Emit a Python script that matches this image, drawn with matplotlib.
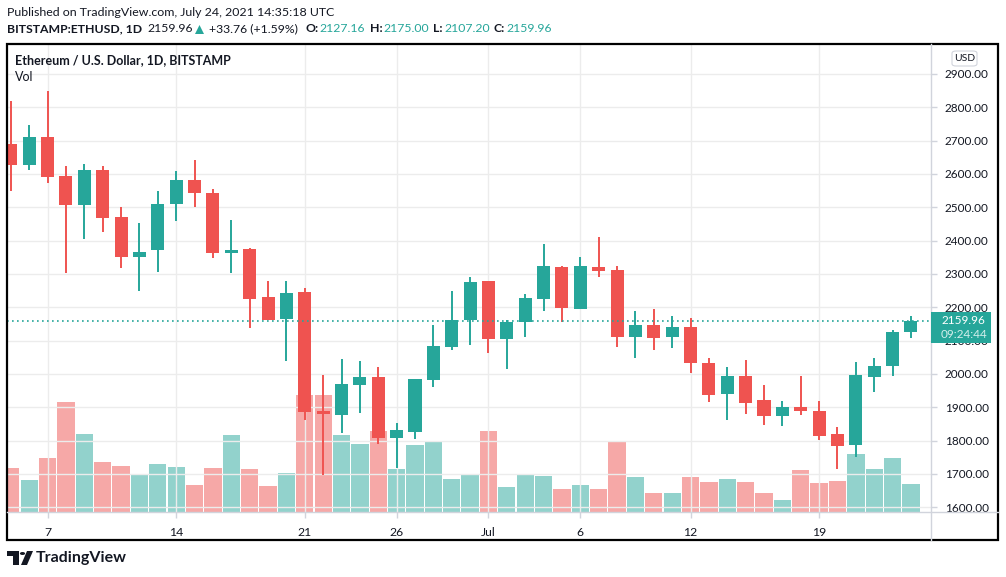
import matplotlib
matplotlib.use('Agg')
import matplotlib.pyplot as plt
from matplotlib.patches import Rectangle, Polygon, FancyBboxPatch, Circle
from matplotlib.lines import Line2D

plt.rcParams['font.family'] = ['Lato', 'DejaVu Sans']

# daily candles, 5 Jun 2021 .. 24 Jul 2021
opens = [2690, 2628, 2711, 2594, 2507, 2612, 2471, 2351, 2372, 2510,
         2582, 2543, 2363, 2375, 2231, 2166, 2246, 1889, 1877, 1967,
         1991, 1808, 1826, 1982, 2081, 2162, 2279, 2105, 2156, 2225,
         2321, 2195, 2321, 2312, 2112, 2148, 2112, 2142, 2033, 1941,
         1995, 1923, 1875, 1901, 1890, 1821, 1788, 1992, 2025, 2127.16]
highs = [2819, 2747, 2849, 2624, 2630, 2624, 2501, 2453, 2549, 2609,
         2642, 2555, 2462, 2378, 2279, 2279, 2258, 1998, 2045, 2039,
         2021, 1853, 1985, 2147, 2249, 2291, 2279, 2162, 2240, 2390,
         2324, 2351, 2411, 2324, 2190, 2196, 2174, 2168, 2049, 2022,
         2043, 1968, 1920, 1995, 1920, 1842, 2037, 2049, 2133, 2175.00]
lows = [2549, 2612, 2573, 2303, 2405, 2426, 2318, 2250, 2306, 2459,
        2501, 2348, 2303, 2138, 2163, 2040, 1862, 1697, 1823, 1883,
        1790, 1718, 1805, 1961, 2072, 2087, 2063, 2015, 2111, 2189,
        2156, 2195, 2291, 2081, 2049, 2073, 2079, 2004, 1917, 1863,
        1881, 1848, 1845, 1878, 1803, 1716, 1752, 1947, 1995, 2107.20]
closes = [2628, 2711, 2591, 2507, 2612, 2469, 2351, 2366, 2510, 2582,
          2543, 2363, 2372, 2226, 2163, 2243, 1886, 1880, 1970, 1991,
          1808, 1832, 1985, 2084, 2162, 2276, 2105, 2156, 2228, 2324,
          2198, 2324, 2309, 2112, 2148, 2109, 2142, 2034, 1938, 1995,
          1914, 1875, 1901, 1890, 1815, 1785, 1998, 2025, 2127, 2159.96]
# volume, relative units
volumes = [44, 32, 54, 110, 78, 50, 46, 38, 48, 45,
           27, 44, 77, 43, 26, 39, 117, 117, 77, 68,
           81, 43, 67, 71, 33, 38, 81, 25, 37, 36,
           23, 27, 23, 71, 35, 19, 19, 35, 30, 33,
           30, 19, 12, 42, 29, 31, 58, 43, 54, 28]

tick_pos = [2, 9, 16, 21, 26, 31, 37, 44]
tick_labels = ['7', '14', '21', '26', 'Jul', '6', '12', '19']
price_ticks = list(range(1600, 3000, 100))

UP = '#26A69A'
DOWN = '#EF5350'
TXT = '#131722'

W, H = 1006, 577
fig = plt.figure(figsize=(W / 100, H / 100), dpi=100)


def fx(x):
    return x / W


def fy(y):
    return 1 - y / H


# plot area in pixels
L, R, T, B = 7, 931, 44, 512
rect = [fx(L), fy(B), fx(R) - fx(L), fy(T) - fy(B)]

ax = fig.add_axes(rect)
axv = ax.twinx()
axv.set_zorder(ax.get_zorder() - 1)
ax.patch.set_visible(False)
axv.patch.set_facecolor('white')

n = len(closes)
idx = list(range(n))
colors = [UP if c >= o else DOWN for o, c in zip(opens, closes)]

# volume
axv.bar(idx, volumes, width=0.94, color=colors, alpha=0.5, linewidth=0)
axv.set_ylim(0, 468)
axv.set_yticks([])

# candles
ax.vlines(idx, lows, highs, colors=colors, linewidth=1.4, zorder=3)
ax.bar(idx, [abs(c - o) for o, c in zip(opens, closes)], bottom=[min(o, c) for o, c in zip(opens, closes)],
       width=0.71, color=colors, linewidth=0, zorder=4)

ax.set_xlim(-0.21, 50.09)
ax.set_ylim(1586, 2990)

ax.axhline(closes[-1], color=UP, linestyle=(0, (1, 2)), linewidth=1.2, zorder=5)

# grid
for p in price_ticks:
    ax.axhline(p, color='#ececec', linewidth=1, zorder=0)
for t in tick_pos:
    ax.axvline(t, color='#ececec', linewidth=1, zorder=0)

for s in list(ax.spines.values()) + list(axv.spines.values()):
    s.set_visible(False)

ax.yaxis.tick_right()
ax.set_yticks(price_ticks)
ax.set_yticklabels([f'{p:.2f}' for p in price_ticks])
ax.tick_params(axis='y', length=4, width=1, color='#d1d4dc', pad=6, labelsize=8.5, labelcolor=TXT)
ax.set_xticks(tick_pos)
ax.set_xticklabels(tick_labels)
ax.tick_params(axis='x', length=4, width=1, color='#d1d4dc', pad=7, labelsize=8.8, labelcolor=TXT)

# separators and outer frame
fig.add_artist(Line2D([fx(L), fx(998)], [fy(B), fy(B)], color='#d1d4dc', linewidth=1))
fig.add_artist(Line2D([fx(R), fx(R)], [fy(T), fy(540)], color='#d1d4dc', linewidth=1))
fig.add_artist(Rectangle((fx(6.5), fy(540)), fx(998.5) - fx(6.5), fy(43.5) - fy(540),
                         fill=False, edgecolor='black', linewidth=1.6))

# last price label
fig.add_artist(Rectangle((fx(931), fy(343)), fx(991) - fx(931), fy(312) - fy(343),
                         facecolor=UP, edgecolor='none', zorder=10))
fig.text(fx(941), fy(320), f'{closes[-1]:.2f}', color='white', fontsize=8.5, va='center', zorder=11)
fig.text(fx(941), fy(335), '09:24:44', color='#d4efec', fontsize=8.5, va='center', zorder=11)

# USD box
fig.add_artist(FancyBboxPatch((fx(952), fy(66)), fx(977) - fx(952), fy(51) - fy(66),
                              boxstyle='round,pad=0,rounding_size=0.004', facecolor='white',
                              edgecolor='#d1d4dc', linewidth=0.8, zorder=10))
fig.text(fx(964.5), fy(58.5), 'USD', color=TXT, fontsize=7.5, ha='center', va='center', zorder=11)

# header
fig.text(fx(7), fy(12), 'Published on TradingView.com, July 24, 2021 14:35:18 UTC', color=TXT,
         fontsize=8.9, va='center')
y2 = fy(29)
parts = [
    (7, 'BITSTAMP:ETHUSD, 1D', TXT, 'bold'),
    (147, '2159.96', TXT, 'normal'),
    (209, '+33.76 (+1.59%)', TXT, 'normal'),
    (306, 'O:', TXT, 'bold'),
    (319, '2127.16', UP, 'normal'),
    (370, 'H:', TXT, 'bold'),
    (383, '2175.00', UP, 'normal'),
    (433, 'L:', TXT, 'bold'),
    (444, '2107.20', UP, 'normal'),
    (494, 'C:', TXT, 'bold'),
    (506, '2159.96', UP, 'normal'),
]
for x, s, c, w in parts:
    fig.text(fx(x), y2, s, color=c, fontsize=8.8, fontweight=w, va='center')
fig.add_artist(Polygon([(fx(195), fy(34)), (fx(204), fy(34)), (fx(199.5), fy(25))],
                       closed=True, facecolor=UP, edgecolor='none'))

fig.text(fx(15), fy(60), 'Ethereum / U.S. Dollar, 1D, BITSTAMP', color=TXT, fontsize=9,
         fontweight='bold', va='center')
fig.text(fx(15), fy(77), 'Vol', color=TXT, fontsize=9, va='center')

# TradingView logo
fig.add_artist(Polygon([(fx(7), fy(551)), (fx(19), fy(551)), (fx(19), fy(565)), (fx(13), fy(565)),
                        (fx(13), fy(556)), (fx(7), fy(556))], closed=True, facecolor='#131722',
                       edgecolor='none'))
fig.add_artist(Circle((fx(22.5), fy(553.5)), 2.6 / W, facecolor='#131722', edgecolor='none',
                      transform=fig.transFigure))
fig.add_artist(Polygon([(fx(27), fy(551)), (fx(33), fy(551)), (fx(27), fy(565)), (fx(21), fy(565))],
                       closed=True, facecolor='#131722', edgecolor='none'))
fig.text(fx(36), fy(558), 'TradingView', color='#131722', fontsize=11.5, fontweight='bold', va='center')

fig.savefig('out.png', dpi=100)
